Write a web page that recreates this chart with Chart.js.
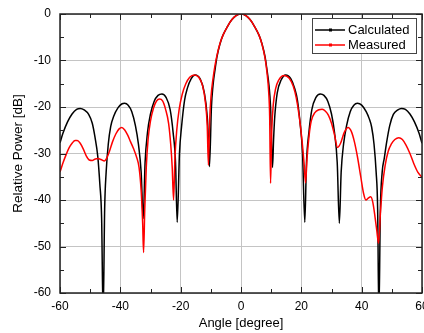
<!DOCTYPE html>
<html>
<head>
<meta charset="utf-8">
<script src="https://cdn.jsdelivr.net/npm/chart.js@4.4.0/dist/chart.umd.min.js"></script>
<style>
    html, body { margin: 0; padding: 0; background: #fff; }
</style>
</head>
<body>
<canvas id="chart" width="424" height="333"></canvas>
<script>
// axis ticks
const xTicks = [-60, -40, -20, 0, 20, 40, 60];
const yTicks = [0, -10, -20, -30, -40, -50, -60];
const xMinor = [-50, -30, -10, 10, 30, 50];
const yMinor = [-5, -15, -25, -35, -45, -55];

const seriesLabels = ['Calculated', 'Measured'];
const seriesColors = ['#000000', '#ff0000'];

// calculated pattern (angle in degree, power in dB)
const calcAngle = [
    -60, -59, -57.5, -56, -54.5, -53.3, -52, -50.5, -49.3, -48.4, -47.5, -46.8, -46.2, -45.7,
    -45.2, -44.7, -44, -43.2, -42.2, -40.8, -39.4, -38.6, -37.4, -36.2, -35, -34, -33.1, -32.4,
    -31.8, -31, -30, -28.8, -27.5, -26.2, -24.8, -23.5, -22.5, -21.7, -21.15,
    -20.4, -19.7, -18.7, -17.8, -16.5, -15.2, -13.5, -12.2, -11.2, -10.8, -10.45,
    -9.8, -9.3, -8.5, -8, -7, -6, -4.5, -3, -1.5, 0,
    1.5, 3, 4.5, 6, 7, 8, 8.5, 9.3, 9.8, 10.45,
    10.8, 11.2, 12, 13.3, 14.8, 16.5, 17.8, 18.7, 19.7, 20.4, 21.15,
    21.7, 22.5, 23.5, 24.8, 26.3, 27.5, 28.8, 30, 31, 31.9, 32.6,
    33.2, 34, 35, 36.2, 37.4, 38.6, 40, 41.5, 42.5, 43.3, 44.1, 44.8, 45.3, 45.7,
    46.2, 46.8, 47.5, 48.3, 49.3, 50.5, 52, 53.2, 54.5, 56, 57.5, 59, 60
];
const calcPower = [
    -27.7, -25.6, -23.2, -21.5, -20.5, -20.3, -20.6, -21.6, -23.5, -26.5, -30.5, -36.5, -44, -65,
    -42, -34, -28, -24.2, -22, -20.2, -19.3, -19.2, -19.6, -21, -24, -28, -34, -44,
    -32, -25.5, -21.5, -18.8, -17.5, -17.2, -18, -20.5, -25.5, -32, -44.8,
    -30, -24.2, -18.5, -16, -13.9, -13.1, -14, -16.8, -22, -27, -32.8,
    -20, -15.5, -11.5, -9.3, -6.5, -4.6, -2.7, -1.2, -0.3, 0,
    -0.3, -1.2, -2.7, -4.6, -6.5, -9.3, -11.5, -15.5, -20, -33,
    -27, -22, -17, -14.2, -13.1, -13.9, -16, -18.5, -24.2, -30, -44.8,
    -32, -25.5, -20.5, -18, -17.2, -17.5, -18.8, -21.5, -25.5, -32, -45,
    -34, -28, -24, -21, -19.6, -19.2, -19.6, -21, -22.5, -24.3, -28, -34, -42, -65,
    -42, -34, -31, -27.5, -24, -21.6, -20.6, -20.3, -20.5, -21.5, -23.2, -25.6, -27.8
];

// measured pattern
const measAngle = [
    -60, -59, -58, -57, -56, -55, -54.3, -53.3, -52.3, -51.3, -50.3, -49.3, -48.3, -47.4, -46.4,
    -45.3, -44.5, -43.6, -42.6, -41.5, -40.4, -39.5, -38.6, -37.6, -36.6, -35.6, -34.6, -33.8,
    -33.1, -32.6, -32.3, -31.9, -31.4, -30.8, -30, -29, -28, -27, -26, -25, -24, -23.3, -22.8,
    -22.35, -21.9, -21.3, -20.5, -19.5, -18.3, -17, -15.5, -14, -12.7, -11.8, -11.2, -10.8,
    -10.4, -9.9, -9.3, -8.6, -8, -7, -6, -4.5, -3, -1.5, 0,
    1.5, 3, 4.5, 6, 7, 8, 8.6, 9.2, 9.5, 9.8,
    10.2, 10.7, 11.5, 12.5, 14.3, 16, 17.3, 18.3, 19.3, 20.2, 20.9, 21.4,
    21.9, 22.6, 23.3, 24.5, 25.8, 26.9, 28, 29, 30, 31, 32,
    33, 34.2, 35.5, 36.6, 37.6, 38.6, 39.7, 40.6, 41.4, 42.2, 43, 43.7, 44.4, 45, 45.6,
    46.2, 46.9, 47.8, 48.8, 49.8, 51, 52.3, 53.5, 54.7, 56, 57.3, 58.6, 60
];
const measPower = [
    -34, -32, -30.3, -28.8, -27.8, -27.2, -27.2, -27.8, -29, -30.5, -31.4, -31.5, -31.2, -31.1, -31.3,
    -31.6, -31, -29.5, -27.5, -25.8, -24.7, -24.4, -24.9, -26, -27.5, -29, -30.8, -33,
    -38, -45, -51.3, -42, -33, -27, -23, -20.2, -18.7, -18.3, -18.7, -20.5, -23.5, -28, -33,
    -40, -31, -25, -20.5, -17.3, -15, -13.6, -13.1, -13.6, -15.5, -19, -24, -32.5,
    -23, -17.5, -14, -11, -9, -6.4, -4.6, -2.7, -1.2, -0.3, 0,
    -0.3, -1.2, -2.7, -4.6, -6.6, -9.6, -12.5, -17, -22, -36.4,
    -25, -19.5, -16, -14.2, -13.2, -13.8, -15.5, -18, -22, -27, -32, -36.3,
    -31, -26, -23, -21.2, -20.6, -20.5, -20.9, -21.8, -23.5, -26, -28.7,
    -27.8, -25.5, -24.4, -25.3, -27.5, -30.7, -35, -38.5, -40, -39.6, -39.3, -40.5, -43.5, -46.5, -49.3,
    -43, -37, -32.5, -29.5, -28, -27, -26.6, -27, -28.2, -30, -32.2, -34, -35.1
];

const FONT = "'Liberation Sans', Arial, sans-serif";

function toPoints(xs, ys) {
    return xs.map((x, i) => ({ x: x, y: ys[i] }));
}

// frame, inward tick marks and the boxed legend
const framePlugin = {
    id: 'frame',
    afterDraw(chart) {
        const { ctx, chartArea: a, scales: { x, y } } = chart;
        ctx.save();
        ctx.strokeStyle = '#222';
        ctx.lineWidth = 1.5;
        ctx.strokeRect(a.left, a.top, a.right - a.left, a.bottom - a.top);

        ctx.lineWidth = 1;
        ctx.beginPath();
        const tick = (vals, len, horiz) => {
            vals.forEach(v => {
                if (horiz) {
                    const px = Math.round(x.getPixelForValue(v)) + 0.5;
                    ctx.moveTo(px, a.bottom); ctx.lineTo(px, a.bottom - len);
                    ctx.moveTo(px, a.top); ctx.lineTo(px, a.top + len);
                } else {
                    const py = Math.round(y.getPixelForValue(v)) + 0.5;
                    ctx.moveTo(a.left, py); ctx.lineTo(a.left + len, py);
                    ctx.moveTo(a.right, py); ctx.lineTo(a.right - len, py);
                }
            });
        };
        tick(xMinor, 4, true);
        tick(yMinor, 4, false);
        tick(xTicks, 6, true);
        tick(yTicks, 6, false);
        ctx.stroke();

        // legend
        const bx = 312, by = 18, bw = 104, bh = 35;
        ctx.fillStyle = '#fff';
        ctx.fillRect(bx, by, bw, bh);
        ctx.strokeStyle = '#444';
        ctx.lineWidth = 1;
        ctx.strokeRect(bx + 0.5, by + 0.5, bw, bh);
        ctx.font = '13px ' + FONT;
        ctx.textBaseline = 'middle';
        seriesLabels.forEach((lab, i) => {
            const ly = 30 + i * 15;
            ctx.strokeStyle = seriesColors[i];
            ctx.lineWidth = 1.5;
            ctx.beginPath();
            ctx.moveTo(315, ly); ctx.lineTo(345, ly);
            ctx.stroke();
            ctx.fillStyle = seriesColors[i];
            ctx.fillRect(329, ly - 1.5, 3, 3);
            ctx.fillStyle = '#000';
            ctx.fillText(lab, 348, ly);
        });
        ctx.restore();
    }
};

new Chart(document.getElementById('chart').getContext('2d'), {
    type: 'line',
    data: {
        datasets: [{
            label: seriesLabels[0],
            data: toPoints(calcAngle, calcPower),
            borderColor: seriesColors[0],
            order: 1
        }, {
            label: seriesLabels[1],
            data: toPoints(measAngle, measPower),
            borderColor: seriesColors[1],
            order: 0
        }]
    },
    options: {
        responsive: false,
        animation: false,
        devicePixelRatio: 1,
        layout: { padding: { top: 14, right: 2, left: 0, bottom: 0 } },
        elements: {
            point: { radius: 0 },
            line: { borderWidth: 1.5, cubicInterpolationMode: 'monotone', fill: false }
        },
        plugins: {
            legend: { display: false },
            tooltip: { enabled: false }
        },
        scales: {
            x: {
                type: 'linear',
                min: -60,
                max: 60,
                afterBuildTicks: s => { s.ticks = xTicks.map(v => ({ value: v })); },
                grid: { color: '#c4c4c4', lineWidth: 1, drawTicks: false },
                border: { display: false },
                ticks: {
                    color: '#000', padding: 6, maxRotation: 0, autoSkip: false,
                    font: { family: FONT, size: 12 }
                },
                title: {
                    display: true, text: 'Angle [degree]', color: '#000',
                    font: { family: FONT, size: 13 }, padding: { top: 0, bottom: 2 }
                },
                afterFit: s => { s.height = 40; s.paddingLeft = 0; s.paddingRight = 0; }
            },
            y: {
                type: 'linear',
                min: -60,
                max: 0,
                afterBuildTicks: s => { s.ticks = yTicks.map(v => ({ value: v })); },
                grid: { color: '#c4c4c4', lineWidth: 1, drawTicks: false },
                border: { display: false },
                ticks: {
                    color: '#000', padding: 9,
                    font: { family: FONT, size: 12 }
                },
                title: {
                    display: true, text: 'Relative Power [dB]', color: '#000',
                    font: { family: FONT, size: 13.5 }, padding: { top: 10, bottom: 0 }
                },
                afterFit: s => { s.width = 60; s.paddingTop = 0; s.paddingBottom = 0; }
            }
        }
    },
    plugins: [framePlugin]
});
</script>
</body>
</html>
